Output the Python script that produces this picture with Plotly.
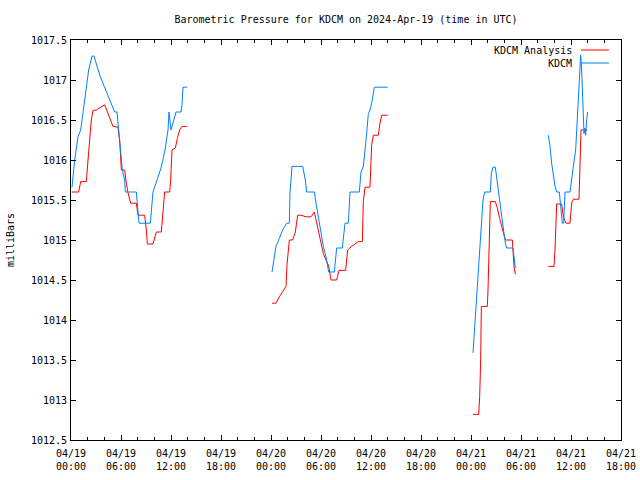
import plotly.graph_objects as go
from datetime import datetime, timedelta

START = datetime(2024, 4, 19)

# KDCM observed (hours after 2024-04-19 00:00 UTC); None marks gaps
kdcm_hours = [
    0.12, 0.44, 0.84, 1.16, 1.44, 1.84, 2.12, 2.52, 2.76, 3.48, 4.44, 5.24, 5.52, 5.72, 5.96, 6.16, 6.44, 6.52,
    7.84, 8.16, 9.52, 9.84, 10.8, 11.28, 11.64, 11.76, 12.0, 12.48, 12.6, 13.2, 13.32, 13.44, 13.92,
    None,
    24.12, 24.40, 24.6, 25.0, 25.4, 25.88, 26.2, 26.28, 26.52, 27.8, 28.12, 28.28, 29.2, 29.4, 29.72, 30.0,
    30.28, 30.6, 30.8, 30.92, 31.6, 31.88, 32.56, 32.88, 33.28, 33.48, 34.6, 34.8, 35.08, 35.28, 35.48,
    35.68, 35.88, 36.08, 36.4, 38.0,
    None,
    48.24, 48.44, 48.64, 48.84, 49.04, 49.24, 49.44, 49.64, 50.32, 50.44, 50.64, 50.92, 51.16, 51.44, 51.72,
    51.96, 52.16, 52.28, 53.04, 53.16, 53.32,
    None,
    57.28, 57.48, 57.68, 57.88, 58.08, 58.28, 58.6, 58.76, 58.96, 59.12, 59.28, 59.88, 60.08, 60.28, 60.56,
    60.76, 60.96, 61.16, 61.28, 61.4, 61.56, 61.68, 61.76, 61.88, 62.0,
]
kdcm_mb = [
    1015.66, 1016.0, 1016.29, 1016.375, 1016.59, 1016.91, 1017.125, 1017.3, 1017.3, 1017.05, 1016.8, 1016.6,
    1016.6, 1016.375, 1016.125, 1015.875, 1015.75, 1015.6,
    1015.6, 1015.21, 1015.21, 1015.6, 1015.9, 1016.125, 1016.375, 1016.6, 1016.375, 1016.56, 1016.6, 1016.6,
    1016.69, 1016.91, 1016.91,
    None,
    1014.6, 1014.77, 1014.92, 1015.02, 1015.125, 1015.21, 1015.21, 1015.59, 1015.92, 1015.92, 1015.75,
    1015.6, 1015.6, 1015.46, 1015.25, 1015.06, 1014.92, 1014.79, 1014.67, 1014.6, 1014.6, 1014.9, 1014.9,
    1015.21, 1015.21, 1015.6, 1015.6, 1015.85, 1015.92, 1016.1, 1016.33, 1016.58, 1016.625, 1016.71,
    1016.91, 1016.91,
    None,
    1013.59, 1013.92, 1014.25, 1014.58, 1014.96, 1015.29, 1015.5, 1015.6, 1015.6, 1015.83, 1015.91, 1015.91,
    1015.71, 1015.46, 1015.25, 1015.08, 1014.94, 1014.9, 1014.9, 1014.75, 1014.65,
    None,
    1016.31, 1016.17, 1015.96, 1015.79, 1015.67, 1015.6, 1015.6, 1015.42, 1015.21, 1015.21, 1015.6, 1015.6,
    1015.79, 1015.92, 1016.125, 1016.54, 1016.96, 1017.31, 1017.125, 1016.71, 1016.33, 1016.4, 1016.31,
    1016.5, 1016.6,
]

# KDCM Analysis
analysis_hours = [
    0.12, 0.92, 1.16, 1.84, 2.04, 2.24, 2.44, 2.64, 3.04, 4.04, 4.44, 5.04, 5.64, 5.84, 6.04, 6.44, 6.64,
    6.84, 7.16, 7.84, 8.04, 8.84, 9.04, 9.16, 9.84, 10.04, 10.24, 10.84, 11.04, 11.24, 11.84, 11.96, 12.12,
    12.52, 12.76, 13.04, 13.32, 13.92,
    None,
    24.12, 24.6, 25.0, 25.4, 25.8, 25.92, 26.2, 26.6, 26.92, 27.2, 27.6, 28.2, 28.8, 29.2, 29.4, 29.72, 30.0,
    30.28, 30.6, 30.92, 31.2, 31.88, 32.16, 32.96, 33.2, 33.68, 34.48, 34.96, 35.08, 35.28, 35.88, 36.08,
    36.28, 36.88, 37.08, 37.28, 38.0,
    None,
    48.24, 48.92, 49.04, 49.16, 49.24, 49.96, 50.04, 50.16, 50.32, 50.92, 51.16, 51.44, 51.64, 51.84, 52.12,
    52.96, 53.04, 53.16, 53.32,
    None,
    57.28, 57.96, 58.08, 58.2, 58.28, 58.88, 59.08, 59.4, 59.88, 60.08, 60.28, 60.96, 61.08, 61.2, 61.96,
]
analysis_mb = [
    1015.6, 1015.6, 1015.73, 1015.73, 1016.0, 1016.27, 1016.5, 1016.62, 1016.625, 1016.69, 1016.59, 1016.42,
    1016.41, 1016.25, 1015.875, 1015.875, 1015.71, 1015.59, 1015.46, 1015.46, 1015.31, 1015.31, 1015.125,
    1014.95, 1014.95, 1015.04, 1015.1, 1015.1, 1015.34, 1015.6, 1015.6, 1015.75, 1016.125, 1016.15,
    1016.27, 1016.375, 1016.42, 1016.42,
    None,
    1014.21, 1014.21, 1014.29, 1014.35, 1014.42, 1014.69, 1015.0, 1015.0, 1015.1, 1015.31, 1015.31,
    1015.29, 1015.29, 1015.35, 1015.25, 1015.08, 1014.94, 1014.83, 1014.75, 1014.675, 1014.5, 1014.5,
    1014.62, 1014.62, 1014.875, 1014.92, 1014.98, 1014.98, 1015.48, 1015.66, 1015.66, 1016.19, 1016.31,
    1016.31, 1016.46, 1016.56, 1016.56,
    None,
    1012.82, 1012.82, 1013.04, 1013.5, 1014.17, 1014.17, 1014.375, 1014.92, 1015.48, 1015.48, 1015.4,
    1015.27, 1015.19, 1015.1, 1015.0, 1015.0, 1014.875, 1014.67, 1014.57,
    None,
    1014.67, 1014.67, 1014.875, 1015.25, 1015.45, 1015.45, 1015.29, 1015.21, 1015.21, 1015.46, 1015.51,
    1015.51, 1015.92, 1016.375, 1016.375,
]

x_tick_hours = [0, 6, 12, 18, 24, 30, 36, 42, 48, 54, 60, 66]
x_tick_labels = ["04/19<br>00:00", "04/19<br>06:00", "04/19<br>12:00", "04/19<br>18:00",
                 "04/20<br>00:00", "04/20<br>06:00", "04/20<br>12:00", "04/20<br>18:00",
                 "04/21<br>00:00", "04/21<br>06:00", "04/21<br>12:00", "04/21<br>18:00"]
y_tick_values = [1012.5, 1013, 1013.5, 1014, 1014.5, 1015, 1015.5, 1016, 1016.5, 1017, 1017.5]
y_tick_labels = ["1012.5", "1013", "1013.5", "1014", "1014.5", "1015", "1015.5", "1016", "1016.5", "1017", "1017.5"]

series_names = ["KDCM Analysis", "KDCM"]
series_colors = ["#ff0000", "#0080ff"]


def to_time(hours):
    return [START + timedelta(hours=h) if h is not None else None for h in hours]


FONT = "DejaVu Sans Mono"

fig = go.Figure()
fig.add_trace(go.Scatter(x=to_time(analysis_hours), y=analysis_mb, mode="lines",
                         name=series_names[0], line=dict(color=series_colors[0], width=1),
                         connectgaps=False, showlegend=False))
fig.add_trace(go.Scatter(x=to_time(kdcm_hours), y=kdcm_mb, mode="lines",
                         name=series_names[1], line=dict(color=series_colors[1], width=1),
                         connectgaps=False, showlegend=False))

# gnuplot-style legend (text left of sample line), top right
legend_y = [0.975, 0.9425]
for name, color, ly in zip(series_names, series_colors, legend_y):
    fig.add_annotation(xref="paper", yref="paper", x=0.9145, y=ly, text=name, showarrow=False,
                       xanchor="right", yanchor="middle", font=dict(family=FONT, size=10, color="black"))
    fig.add_shape(type="line", xref="paper", yref="paper", x0=0.927, x1=0.978, y0=ly, y1=ly,
                  line=dict(color=color, width=1))

fig.update_layout(
    width=640, height=480,
    margin=dict(l=71, r=19, t=40, b=40, autoexpand=False),
    paper_bgcolor="white", plot_bgcolor="white",
    font=dict(family=FONT, size=10, color="black"),
    title=dict(text="Barometric Pressure for KDCM on 2024-Apr-19 (time in UTC)",
               x=0.5, xref="paper", xanchor="center", y=1 - 19 / 480, yanchor="middle", yref="container",
               font=dict(family=FONT, size=10, color="black")),
)
fig.update_xaxes(
    type="date", automargin=False,
    range=[START, START + timedelta(hours=66)],
    tickmode="array", tickvals=to_time(x_tick_hours), ticktext=x_tick_labels,
    ticks="inside", ticklen=5, tickcolor="black", tickwidth=1, ticklabelstandoff=4,
    minor=dict(ticks="inside", ticklen=3, dtick=2 * 3600 * 1000, tickcolor="black", showgrid=False),
    showline=True, linecolor="black", linewidth=1, mirror="allticks",
    showgrid=False, zeroline=False,
)
fig.update_yaxes(
    automargin=False,
    range=[1012.5, 1017.5],
    tickmode="array", tickvals=y_tick_values, ticktext=y_tick_labels,
    ticks="inside", ticklen=5, tickcolor="black", tickwidth=1, ticklabelstandoff=1,
    showline=True, linecolor="black", linewidth=1, mirror="allticks",
    showgrid=False, zeroline=False,
    title=dict(text="milliBars", standoff=14, font=dict(family=FONT, size=10)),
)

fig.write_html("out.html", config={"displayModeBar": False},
               post_script="document.body.style.margin='0px';")
